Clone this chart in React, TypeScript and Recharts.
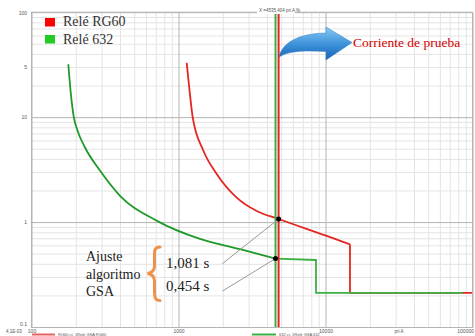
import React from "react";
import {
  LineChart, Line, XAxis, YAxis, ReferenceLine, ReferenceDot
} from "recharts";

// Ejes (escala log-log)
const X_MAJOR = [100, 1000, 10000, 100000];
const X_MINOR = [
  200, 300, 400, 500, 600, 700, 800, 900,
  2000, 3000, 4000, 5000, 6000, 7000, 8000, 9000,
  20000, 30000, 40000, 50000, 60000, 70000, 80000, 90000,
];
const Y_MAJOR = [0.1, 1, 10, 100];
const Y_MINOR = [
  0.2, 0.3, 0.4, 0.5, 0.6, 0.7, 0.8, 0.9,
  2, 3, 4, 5, 6, 7, 8, 9,
  20, 30, 40, 50, 60, 70, 80, 90,
];
const Y_TICKS = [0.1, 1, 10, 30, 100];
const Y_LABELS: Record<number, string> = { 0.1: "0.1", 1: "1", 10: "10", 30: "5", 100: "100" };

// Relé RG60 (rojo)
const RED_CURVE_I = [1128, 1179, 1239, 1463, 1805, 2469, 3378, 4760, 10110, 14560];
const RED_CURVE_T = [33.2, 18.2, 10.1, 4.86, 2.91, 1.73, 1.29, 1.081, 0.746, 0.621];
const RED_STEP_I = [14560, 14560, 100000];
const RED_STEP_T = [0.621, 0.214, 0.214];

// Relé 632 (verde)
const GREEN_CURVE_I = [176.6, 184.2, 192.5, 203.9, 229.4, 290, 397, 708.6, 1390, 2600, 4535];
const GREEN_CURVE_T = [32.3, 16.3, 10.1, 7.54, 5.19, 3.13, 1.8, 1.038, 0.698, 0.557, 0.454];
const GREEN_STEP_I = [4535, 8551, 8551, 85500];
const GREEN_STEP_T = [0.454, 0.44, 0.214, 0.214];

// Corriente de prueba y puntos de ajuste
const TEST_GREEN_I = 4535;
const TEST_RED_I = 4760;
const T_RG60 = 1.081;
const T_632 = 0.454;
const LEADER_START_I = 1971;
const LEADER_START_T = [0.4055, 0.222];

const RED = "#e52521";
const GREEN = "#1f9a2a";
const GREEN_V = "#3cb043";
const MINOR = "#e4e4e4";
const MAJOR = "#b4b4b4";
const SERIF = "'Liberation Serif', 'Times New Roman', serif";
const SANS = "'Liberation Sans', Arial, sans-serif";

const zip = (xs: number[], ys: number[]) => xs.map((i, k) => ({ i, t: ys[k] }));

function XTick({ x, y, payload }: any) {
  const last = payload.value === 100000;
  return (
    <text x={last ? 474 : x} y={y + 4.5} fontSize={5} fill="#555" fontFamily={SANS} textAnchor={last ? "end" : "middle"}>
      {payload.value}
    </text>
  );
}

function YTick({ x, y, payload }: any) {
  const low = payload.value === 0.1;
  return (
    <text x={x} y={y + (low ? -1.5 : 1.8)} fontSize={5} fill="#555" fontFamily={SANS} textAnchor="end">
      {Y_LABELS[payload.value] ?? payload.value}
    </text>
  );
}

export default function App() {
  return (
    <div style={{ position: "absolute", left: 0, top: 0, width: 475, height: 336, background: "#fff", overflow: "hidden" }}>
      <LineChart width={475} height={336} margin={{ top: 12.7, right: 2, bottom: 7.5, left: 31 }}>
        <XAxis
          type="number" dataKey="i" scale="log" domain={[100, 100000]} allowDataOverflow
          ticks={X_MAJOR} height={1} axisLine={false} tickLine={false} tickSize={0} tickMargin={0.5}
          tick={<XTick />} interval={0}
        />
        <YAxis
          type="number" dataKey="t" scale="log" domain={[0.1, 100]} allowDataOverflow
          ticks={Y_TICKS} width={1} axisLine={false} tickLine={false} tickSize={3} tickMargin={2}
          tick={<YTick />} interval={0}
        />

        {X_MINOR.map((v) => <ReferenceLine key={"xm" + v} x={v} stroke={MINOR} strokeWidth={1} />)}
        {Y_MINOR.map((v) => <ReferenceLine key={"ym" + v} y={v} stroke={MINOR} strokeWidth={1} />)}
        {X_MAJOR.map((v) => <ReferenceLine key={"xM" + v} x={v} stroke={MAJOR} strokeWidth={1} />)}
        {Y_MAJOR.map((v) => <ReferenceLine key={"yM" + v} y={v} stroke={MAJOR} strokeWidth={1} />)}

        <Line data={zip(RED_CURVE_I, RED_CURVE_T)} dataKey="t" type="monotone" stroke={RED} strokeWidth={1.8} dot={false} isAnimationActive={false} />
        <Line data={zip(RED_STEP_I, RED_STEP_T)} dataKey="t" type="linear" stroke={RED} strokeWidth={1.8} dot={false} isAnimationActive={false} />
        <Line data={zip(GREEN_CURVE_I, GREEN_CURVE_T)} dataKey="t" type="monotone" stroke={GREEN} strokeWidth={1.8} dot={false} isAnimationActive={false} />
        <Line data={zip(GREEN_STEP_I, GREEN_STEP_T)} dataKey="t" type="linear" stroke={GREEN_V} strokeWidth={1.8} dot={false} isAnimationActive={false} />

        <ReferenceLine x={TEST_GREEN_I} stroke={GREEN_V} strokeWidth={2} />
        <ReferenceLine x={TEST_RED_I} stroke={RED} strokeWidth={2} />

        <ReferenceLine segment={[{ x: LEADER_START_I, y: LEADER_START_T[0] }, { x: TEST_RED_I, y: T_RG60 }]} stroke="#999" strokeWidth={1} />
        <ReferenceLine segment={[{ x: LEADER_START_I, y: LEADER_START_T[1] }, { x: TEST_GREEN_I, y: T_632 }]} stroke="#999" strokeWidth={1} />

        <ReferenceDot x={TEST_RED_I} y={T_RG60} r={2.5} fill="#000" stroke="none" />
        <ReferenceDot x={TEST_GREEN_I} y={T_632} r={2.5} fill="#000" stroke="none" />
      </LineChart>

      <svg width={475} height={336} style={{ position: "absolute", left: 0, top: 0, pointerEvents: "none" }}>
        <defs>
          <linearGradient id="arrowBlue" x1="0" y1="0" x2="0" y2="1">
            <stop offset="0%" stopColor="#86ccf6" />
            <stop offset="55%" stopColor="#3a8fd8" />
            <stop offset="100%" stopColor="#1a62b4" />
          </linearGradient>
        </defs>

        {/* marco */}
        <rect x={31.5} y={12.2} width={441} height={315.3} fill="none" stroke={MAJOR} strokeWidth={1} />
        <rect x={257} y={7} width={38} height={7} fill="#fff" />
        <text x={259} y={11.5} fontSize={4.5} fill="#555" fontFamily={SANS}>X =4535,404 pri A %</text>

        {/* leyenda */}
        <rect x={45} y={18} width={10} height={8.5} fill="#ff0000" />
        <text x={63} y={25.7} fontSize={14} fill="#333" fontFamily={SERIF}>Relé RG60</text>
        <rect x={45} y={35} width={10} height={8.5} fill="#22cc22" />
        <text x={63} y={44.3} fontSize={14} fill="#333" fontFamily={SERIF}>Relé 632</text>

        {/* flecha */}
        <path
          d="M 279 57 C 282 43, 298 33.5, 326 33 L 326 27 L 352 42.5 L 326 60 L 326 51.5 C 306 50.5, 289 50.5, 279 57 Z"
          fill="url(#arrowBlue)" stroke="#2f7fca" strokeWidth={0.5}
        />
        <text x={353} y={46.5} fontSize={13.5} fill="#d40000" fontFamily={SERIF}>Corriente de prueba</text>

        {/* anotaciones */}
        <text fontSize={14} fill="#222" fontFamily={SERIF}>
          <tspan x={86} y={261}>Ajuste</tspan>
          <tspan x={86} y={278.5}>algoritmo</tspan>
          <tspan x={86} y={296}>GSA</tspan>
        </text>
        <path
          d="M 160 247 C 153.5 247, 154.5 252, 154.5 259 L 154.5 266 C 154.5 271, 151 273, 147.5 273.5 C 151 274, 154.5 276, 154.5 281 L 154.5 292 C 154.5 298, 155.5 300.5, 160 300.5"
          fill="none" stroke="#f0914a" strokeWidth={3} strokeLinecap="round"
        />
        <text x={166} y={268} fontSize={15} fill="#222" fontFamily={SERIF}>1,081 s</text>
        <text x={166} y={291} fontSize={15} fill="#222" fontFamily={SERIF}>0,454 s</text>

        {/* etiquetas de ejes */}
        <text x={14} y={332.5} fontSize={4.5} fill="#555" fontFamily={SANS} textAnchor="middle">4,1E-03</text>
        <text x={399} y={332.5} fontSize={4.5} fill="#555" fontFamily={SANS} textAnchor="middle">pri A</text>

        {/* leyenda inferior */}
        <line x1={32} y1={334.5} x2={55} y2={334.5} stroke="#e86060" strokeWidth={2} />
        <text x={58} y={335.5} fontSize={4} fill="#555" fontFamily={SANS}>RG60 ct. 1Relé GSA RG60</text>
        <line x1={252} y1={334.5} x2={276} y2={334.5} stroke={GREEN_V} strokeWidth={2} />
        <text x={279} y={335.5} fontSize={4} fill="#555" fontFamily={SANS}>632 ct. 1Relé GSA 632</text>
      </svg>
    </div>
  );
}
